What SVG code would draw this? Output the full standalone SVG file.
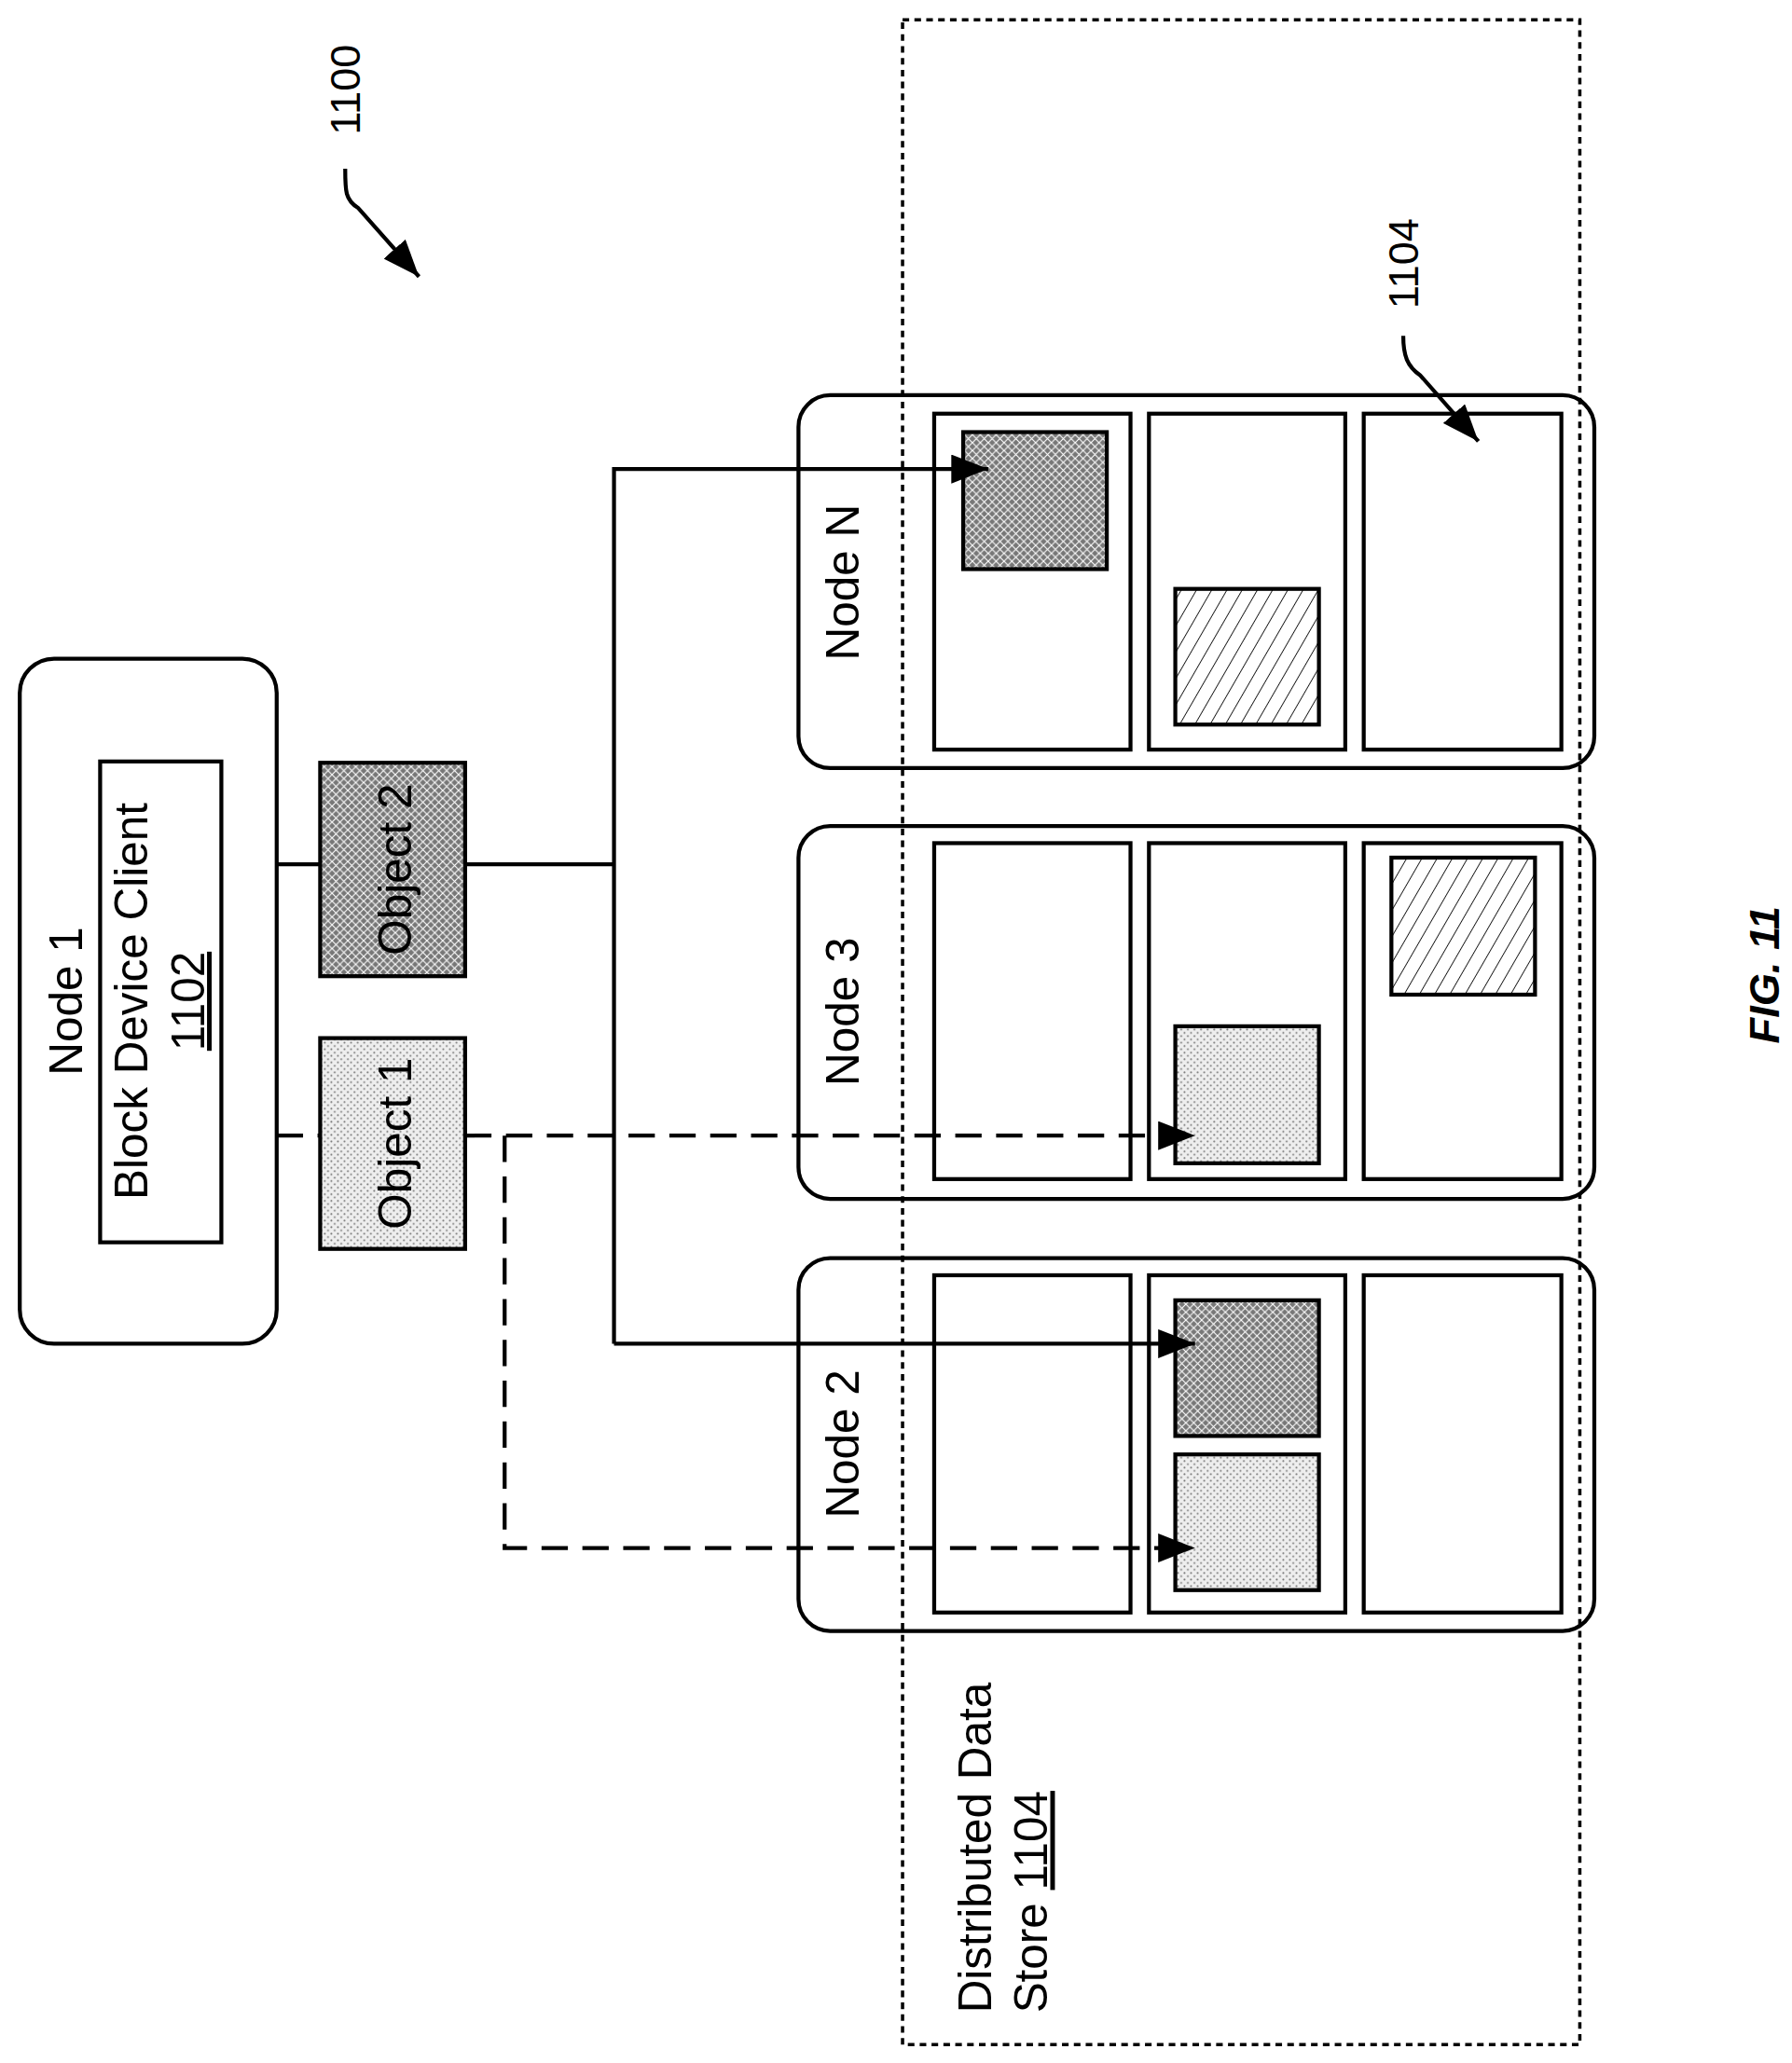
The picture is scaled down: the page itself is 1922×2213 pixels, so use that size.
<svg xmlns="http://www.w3.org/2000/svg" width="1922" height="2213" viewBox="0 0 1922 2213">
<style>
.t{font-family:"Liberation Sans",Arial,sans-serif;font-size:35px;fill:#000}
.b{fill:none;stroke:#000;stroke-width:3}
.c{fill:none;stroke:#000;stroke-width:3}
.d{fill:none;stroke:#000;stroke-width:3;stroke-dasharray:20 11}
</style>
<defs>
<pattern id="dark" width="6" height="6" patternUnits="userSpaceOnUse">
<rect width="6" height="6" fill="#777"/>
<path d="M0,6 L6,0 M0,0 L6,6" stroke="#fff" stroke-width="0.8"/>
</pattern>
<pattern id="dots" width="5" height="5" patternUnits="userSpaceOnUse">
<rect width="5" height="5" fill="#eee"/>
<circle cx="1.5" cy="1.5" r="0.7" fill="#777"/>
<circle cx="4" cy="4" r="0.7" fill="#777"/>
</pattern>
<pattern id="hatch" width="10" height="10" patternUnits="userSpaceOnUse" patternTransform="rotate(30)">
<rect width="10" height="10" fill="#fff"/>
<path d="M0,0 L0,10" stroke="#000" stroke-width="1.2"/>
</pattern>
<marker id="ah" viewBox="0 0 10 10" refX="10" refY="5" markerWidth="28" markerHeight="22" markerUnits="userSpaceOnUse" orient="auto" preserveAspectRatio="none">
<path d="M0,0 L10,5 L0,10 z" fill="#000"/>
</marker>
</defs>
<rect width="1922" height="2213" fill="#fff"/>
<g transform="scale(1.4132)">
<g id="labels">
<text class="t" transform="translate(273,68) rotate(-90)" text-anchor="middle" style="font-size:32px">1100</text>
<path class="c" d="M262,128 C262,145 262,152 272,158 L318,210" marker-end="url(#ah)"/>
<text class="t" transform="translate(1076,200) rotate(-90)" text-anchor="middle" style="font-size:32px">1104</text>
<path class="c" d="M1065,255 C1065,270 1068,278 1078,285 L1122,335" marker-end="url(#ah)"/>
<text transform="translate(1350,740) rotate(-90)" text-anchor="middle" style="font-family:'Liberation Sans',Arial,sans-serif;font-size:32px;font-weight:bold;font-style:italic">FIG. 11</text>
</g>
<g id="store">
<rect x="685" y="15" width="514" height="1537" fill="none" stroke="#000" stroke-width="2.5" stroke-dasharray="5 4"/>
<text class="t" transform="translate(752,1528) rotate(-90)">Distributed Data</text>
<text class="t" transform="translate(795,1528) rotate(-90)">Store <tspan text-decoration="underline">1104</tspan></text>
</g>
<g id="node1">
<rect class="b" x="15" y="500" width="195" height="520" rx="26"/>
<text class="t" transform="translate(62,760) rotate(-90)" text-anchor="middle">Node 1</text>
<rect class="b" x="76" y="578" width="92" height="365"/>
<text class="t" transform="translate(112,760) rotate(-90)" text-anchor="middle">Block Device Client</text>
<text class="t" transform="translate(155,760) rotate(-90)" text-anchor="middle" text-decoration="underline">1102</text>
</g>
<g id="object2">
<rect x="243" y="579" width="110" height="162" fill="url(#dark)" stroke="#000" stroke-width="3"/>
<text class="t" transform="translate(312,660) rotate(-90)" text-anchor="middle">Object 2</text>
</g>
<g id="object1">
<rect x="243" y="788" width="110" height="160" fill="url(#dots)" stroke="#000" stroke-width="3"/>
<text class="t" transform="translate(312,868) rotate(-90)" text-anchor="middle">Object 1</text>
</g>
<g id="nodeN">
<rect class="b" x="606" y="300" width="604" height="283" rx="24"/>
<text class="t" transform="translate(652,442) rotate(-90)" text-anchor="middle">Node N</text>
<rect class="b" x="709" y="314" width="149" height="255"/>
<rect class="b" x="872" y="314" width="149" height="255"/>
<rect class="b" x="1035" y="314" width="150" height="255"/>
<rect x="731" y="328" width="109" height="104" fill="url(#dark)" stroke="#000" stroke-width="3"/>
<rect x="892" y="447" width="109" height="103" fill="url(#hatch)" stroke="#000" stroke-width="3"/>
</g>
<g id="node3">
<rect class="b" x="606" y="627" width="604" height="283" rx="24"/>
<text class="t" transform="translate(652,768) rotate(-90)" text-anchor="middle">Node 3</text>
<rect class="b" x="709" y="640" width="149" height="255"/>
<rect class="b" x="872" y="640" width="149" height="255"/>
<rect class="b" x="1035" y="640" width="150" height="255"/>
<rect x="892" y="779" width="109" height="104" fill="url(#dots)" stroke="#000" stroke-width="3"/>
<rect x="1056" y="651" width="109" height="104" fill="url(#hatch)" stroke="#000" stroke-width="3"/>
</g>
<g id="node2">
<rect class="b" x="606" y="955" width="604" height="283" rx="24"/>
<text class="t" transform="translate(652,1096) rotate(-90)" text-anchor="middle">Node 2</text>
<rect class="b" x="709" y="968" width="149" height="256"/>
<rect class="b" x="872" y="968" width="149" height="256"/>
<rect class="b" x="1035" y="968" width="150" height="256"/>
<rect x="892" y="987" width="109" height="103" fill="url(#dark)" stroke="#000" stroke-width="3"/>
<rect x="892" y="1104" width="109" height="103" fill="url(#dots)" stroke="#000" stroke-width="3"/>
</g>
<g id="connectors">
<path class="c" d="M210,656 L243,656"/>
<path class="c" d="M353,656 L466,656"/>
<path class="c" d="M466,1020 L466,356 L750,356" marker-end="url(#ah)"/>
<path class="c" d="M466,1020 L907,1020" marker-end="url(#ah)"/>
<path class="d" d="M210,862 L243,862"/>
<path class="d" d="M353,862 L907,862" marker-end="url(#ah)"/>
<path class="d" d="M383,862 L383,1175 L907,1175" marker-end="url(#ah)"/>
</g>
</g>
</svg>
